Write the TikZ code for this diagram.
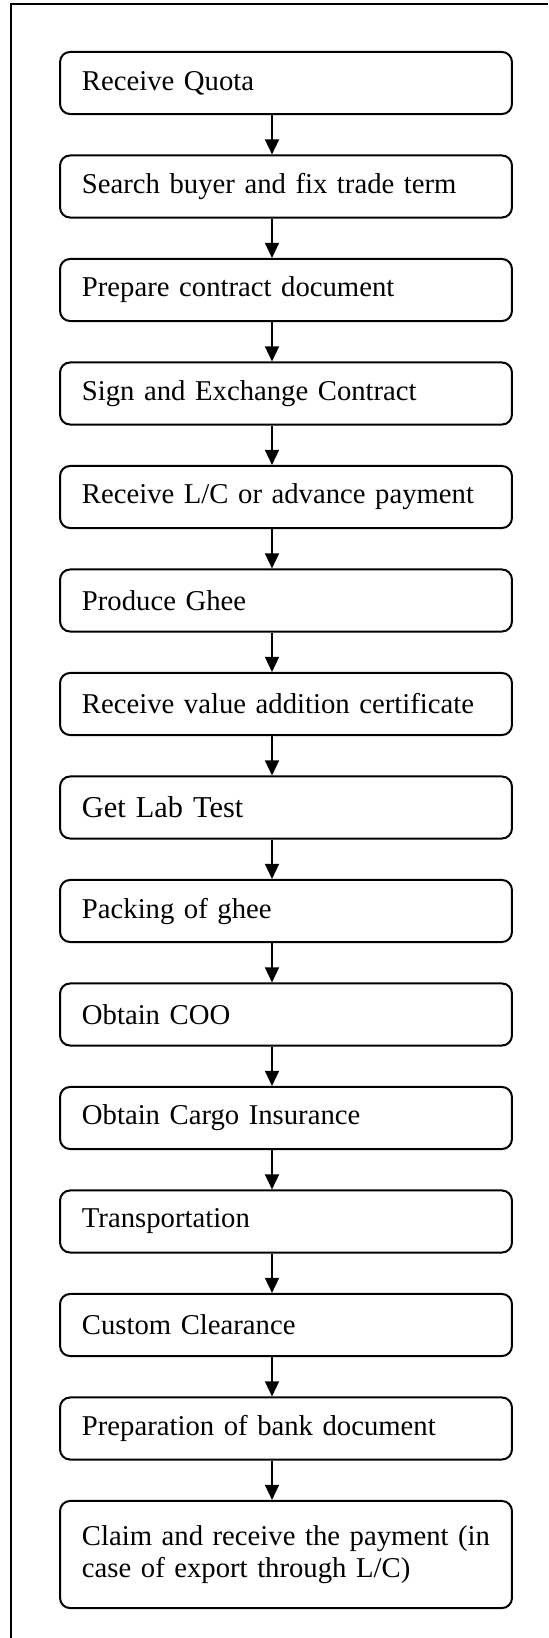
\documentclass[tikz,border=0pt]{standalone}
\usepackage{fontspec}
\setmainfont{Liberation Serif}
\usetikzlibrary{shapes,arrows.meta,positioning,calc}

\begin{document}
\begin{tikzpicture}[x=0.4286pt, y=-0.4286pt, node distance=16.9pt, line width=0.86pt,
        block/.style={rectangle, draw, text width=174.9pt, align=left, rounded corners=4.3pt, minimum height=26.6pt, inner xsep=9.4pt, font=\fontsize{12.3}{13.6}\selectfont},
        >={Triangle[length=6.5pt, width=6pt]}]

        \useasboundingbox (0,0) rectangle (548,1638);
        \draw (11,1638) -- (11,4) -- (548,4);

        \node [block] (quota) at (286,83) {Receive Quota};
        \node [block, below=of quota] (buyer) {Search buyer and fix trade term};
        \node [block, below=of buyer] (contract) {Prepare contract document};
        \node [block, below=of contract] (sign) {Sign and Exchange Contract};
        \node [block, below=of sign] (lc) {Receive L/C or advance payment};
        \node [block, below=of lc] (ghee) {Produce Ghee};
        \node [block, below=of ghee] (vac) {Receive value addition certificate};
        \node [block, below=of vac, font=\fontsize{13}{15}\selectfont] (lab) {Get Lab Test};
        \node [block, below=of lab] (pack) {Packing of ghee};
        \node [block, below=of pack] (coo) {Obtain COO};
        \node [block, below=of coo] (ins) {Obtain Cargo Insurance};
        \node [block, below=of ins] (trans) {Transportation};
        \node [block, below=of trans] (custom) {Custom Clearance};
        \node [block, below=of custom] (bankdoc) {Preparation of bank document};
        \node [block, below=of bankdoc, minimum height=45.9pt] (claim) {Claim and receive the payment (in\\case of export through L/C)};

        \coordinate (ax) at (272,0);
        \path [draw, ->] (quota.south -| ax) -- (buyer.north -| ax);
        \path [draw, ->] (buyer.south -| ax) -- (contract.north -| ax);
        \path [draw, ->] (contract.south -| ax) -- (sign.north -| ax);
        \path [draw, ->] (sign.south -| ax) -- (lc.north -| ax);
        \path [draw, ->] (lc.south -| ax) -- (ghee.north -| ax);
        \path [draw, ->] (ghee.south -| ax) -- (vac.north -| ax);
        \path [draw, ->] (vac.south -| ax) -- (lab.north -| ax);
        \path [draw, ->] (lab.south -| ax) -- (pack.north -| ax);
        \path [draw, ->] (pack.south -| ax) -- (coo.north -| ax);
        \path [draw, ->] (coo.south -| ax) -- (ins.north -| ax);
        \path [draw, ->] (ins.south -| ax) -- (trans.north -| ax);
        \path [draw, ->] (trans.south -| ax) -- (custom.north -| ax);
        \path [draw, ->] (custom.south -| ax) -- (bankdoc.north -| ax);
        \path [draw, ->] (bankdoc.south -| ax) -- (claim.north -| ax);
    \end{tikzpicture}
\end{document}
